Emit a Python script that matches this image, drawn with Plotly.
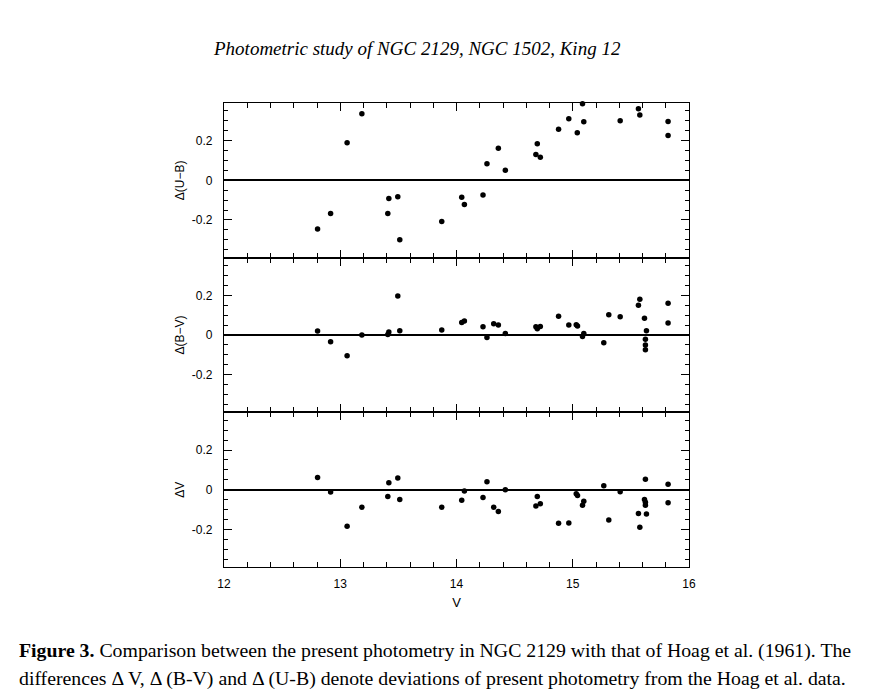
import plotly.graph_objects as go
from plotly.subplots import make_subplots

# ---- data ----
v_ub = [12.805, 12.917, 13.059, 13.186, 13.409, 13.418, 13.495, 13.512, 13.873,
        14.045, 14.068, 14.228, 14.262, 14.360, 14.420, 14.683, 14.695, 14.721,
        14.878, 14.966, 15.039, 15.084, 15.095, 15.408, 15.565, 15.577, 15.820, 15.820]
d_ub = [-0.246, -0.167, 0.189, 0.336, -0.167, -0.091, -0.083, -0.300, -0.208,
        -0.085, -0.122, -0.074, 0.084, 0.162, 0.051, 0.130, 0.184, 0.116,
        0.258, 0.310, 0.240, 0.386, 0.295, 0.300, 0.361, 0.329, 0.297, 0.226]

v_bv = [12.805, 12.917, 13.059, 13.186, 13.409, 13.418, 13.495, 13.512, 13.873,
        14.045, 14.068, 14.228, 14.262, 14.320, 14.360, 14.420, 14.683, 14.695, 14.721,
        14.878, 14.966, 15.030, 15.041, 15.084, 15.095, 15.267, 15.310, 15.408,
        15.565, 15.577, 15.617, 15.634, 15.625, 15.625, 15.625, 15.820, 15.820]
d_bv = [0.020, -0.034, -0.105, 0.000, 0.003, 0.015, 0.197, 0.021, 0.025,
        0.063, 0.070, 0.042, -0.013, 0.057, 0.050, 0.007, 0.042, 0.032, 0.043,
        0.095, 0.050, 0.052, 0.045, -0.008, 0.007, -0.039, 0.102, 0.092,
        0.150, 0.180, 0.085, 0.021, -0.022, -0.050, -0.074, 0.160, 0.060]

v_v = [12.805, 12.917, 13.059, 13.186, 13.409, 13.418, 13.495, 13.512, 13.873,
       14.045, 14.068, 14.228, 14.262, 14.320, 14.360, 14.420, 14.683, 14.695, 14.721,
       14.878, 14.966, 15.030, 15.041, 15.084, 15.095, 15.267, 15.310, 15.408,
       15.565, 15.577, 15.617, 15.625, 15.625, 15.625, 15.634, 15.820, 15.820]
d_v = [0.061, -0.012, -0.185, -0.089, -0.035, 0.035, 0.059, -0.049, -0.089,
       -0.054, -0.007, -0.039, 0.040, -0.089, -0.110, 0.000, -0.083, -0.034, -0.071,
       -0.170, -0.168, -0.020, -0.030, -0.078, -0.059, 0.020, -0.153, -0.010,
       -0.120, -0.190, -0.050, 0.052, -0.063, -0.079, -0.123, 0.027, -0.066]

y_titles = ["\u0394(U\u2212B)", "\u0394(B\u2212V)", "\u0394V"]
y_tickvals = [-0.2, 0, 0.2]
y_ticktext = ["-0.2", "0", "0.2"]
x_tickvals = [12, 13, 14, 15, 16]

title_text = "<i>Photometric study of NGC 2129, NGC 1502, King 12</i>"
caption1 = "<b>Figure 3.</b> Comparison between the present photometry in NGC 2129 with that of Hoag et al. (1961). The"
caption2 = "differences \u0394 V, \u0394 (B-V) and \u0394 (U-B) denote deviations of present photometry from the Hoag et al. data."

# ---- figure (page body has an 8px offset, so sizes are compensated) ----
OFF = 8
W, H = 884 - OFF, 692 - OFF
L, R, T, B = 224 - OFF, 689 - OFF, 103 - OFF, 567 - OFF
fig = make_subplots(rows=3, cols=1, shared_xaxes=True, vertical_spacing=0)

for i, (xs, ys) in enumerate([(v_ub, d_ub), (v_bv, d_bv), (v_v, d_v)], start=1):
    fig.add_trace(go.Scatter(x=xs, y=ys, mode="markers",
                             marker=dict(color="black", size=5.5),
                             showlegend=False, cliponaxis=False), row=i, col=1)
    fig.update_yaxes(range=[-0.39, 0.39], tickvals=y_tickvals, ticktext=y_ticktext,
                     ticks="inside", ticklen=8, tickwidth=1.2, tickcolor="black",
                     minor=dict(dtick=0.05, tick0=0, ticks="inside", ticklen=4,
                                tickwidth=1.2, tickcolor="black"),
                     showline=True, linecolor="black", linewidth=1.3, mirror="allticks",
                     showgrid=False, zeroline=True, zerolinecolor="black", zerolinewidth=1.5,
                     ticklabelstandoff=8,
                     title=dict(text=y_titles[i - 1], font=dict(size=12, family="Liberation Sans", color="black"),
                                standoff=4),
                     tickfont=dict(size=12, family="Liberation Sans", color="black"),
                     row=i, col=1)
    fig.update_xaxes(range=[12, 16], tickvals=x_tickvals,
                     ticks="inside", ticklen=8, tickwidth=1.2, tickcolor="black",
                     minor=dict(dtick=0.2, tick0=12, ticks="inside", ticklen=5,
                                tickwidth=1.2, tickcolor="black"),
                     showline=True, linecolor="black", linewidth=1.3, mirror="allticks",
                     showgrid=False, zeroline=False, ticklabelstandoff=5,
                     tickfont=dict(size=12, family="Liberation Sans", color="black"),
                     row=i, col=1)

fig.update_xaxes(title=dict(text="V", font=dict(size=13, family="Liberation Sans", color="black"),
                            standoff=8), row=3, col=1)

def px(x):
    return (x - OFF - L) / (R - L)

def py(y):
    return (B - (y - OFF)) / (B - T)

fig.add_annotation(text=title_text, x=px(417), y=py(49), xref="paper", yref="paper",
                   showarrow=False, xanchor="center", yanchor="middle",
                   font=dict(family="Liberation Serif", size=19, color="black"))
fig.add_annotation(text=caption1, x=px(17), y=py(650), xref="paper", yref="paper",
                   showarrow=False, xanchor="left", yanchor="middle",
                   font=dict(family="Liberation Serif", size=19.8, color="black"))
fig.add_annotation(text=caption2, x=px(17), y=py(678), xref="paper", yref="paper",
                   showarrow=False, xanchor="left", yanchor="middle",
                   font=dict(family="Liberation Serif", size=19.8, color="black"))

fig.update_layout(width=W, height=H, margin=dict(l=L, r=W - R, t=T, b=H - B),
                  paper_bgcolor="white", plot_bgcolor="white")

fig.write_html("out.html")
